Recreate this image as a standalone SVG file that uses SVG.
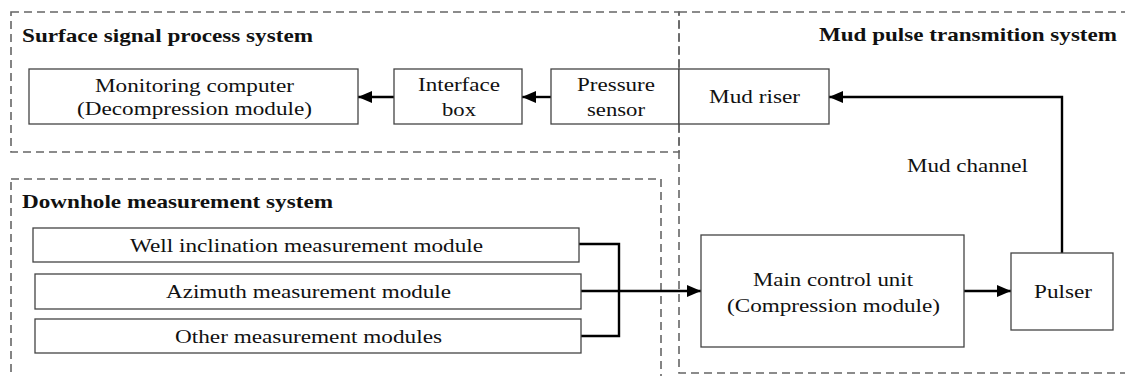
<svg xmlns="http://www.w3.org/2000/svg" width="1125" height="376" viewBox="0 0 1125 376" font-family="Liberation Serif, Times New Roman, serif">
<style>
.grp{fill:none;stroke:#666;stroke-width:1.6;stroke-dasharray:8 5}
.box{fill:#fff;stroke:#444;stroke-width:1.3}
text{font-size:19px;fill:#111}
.b{font-weight:bold}
.c{fill:none;stroke:#000;stroke-width:2.4}
</style>
<defs>
<marker id="ah" markerWidth="14" markerHeight="12" refX="14" refY="6" orient="auto" markerUnits="userSpaceOnUse">
<path d="M0,0 L14,6 L0,12 Z" fill="#000"/>
</marker>
</defs>
<g id="groups">
<rect class="grp" x="11" y="12" width="668" height="140"/>
<rect class="grp" x="11" y="179" width="650" height="220"/>
<rect class="grp" x="679" y="12" width="460" height="361"/>
<text class="b" x="22" y="42" textLength="291" lengthAdjust="spacingAndGlyphs">Surface signal process system</text>
<text class="b" x="819" y="41" textLength="298" lengthAdjust="spacingAndGlyphs">Mud pulse transmition system</text>
<text class="b" x="22" y="208" textLength="311" lengthAdjust="spacingAndGlyphs">Downhole measurement system</text>
</g>
<g id="connectors">
<line class="c" x1="394" y1="97" x2="358" y2="97" marker-end="url(#ah)"/>
<line class="c" x1="551" y1="97" x2="522" y2="97" marker-end="url(#ah)"/>
<polyline class="c" points="1062,253 1062,97 829,97" marker-end="url(#ah)"/>
<polyline class="c" points="579,244 619,244 619,336 581,336"/>
<line class="c" x1="581" y1="291" x2="701" y2="291" marker-end="url(#ah)"/>
<line class="c" x1="964" y1="291" x2="1011" y2="291" marker-end="url(#ah)"/>
<text x="907" y="172" textLength="121" lengthAdjust="spacingAndGlyphs">Mud channel</text>
</g>
<g id="monitoring">
<rect class="box" x="29" y="69" width="329" height="55"/>
<text x="95" y="92" textLength="199" lengthAdjust="spacingAndGlyphs">Monitoring computer</text>
<text x="77" y="115" textLength="235" lengthAdjust="spacingAndGlyphs">(Decompression module)</text>
</g>
<g id="interface">
<rect class="box" x="394" y="69" width="128" height="55"/>
<text x="418" y="91" textLength="82" lengthAdjust="spacingAndGlyphs">Interface</text>
<text x="442" y="116" textLength="34" lengthAdjust="spacingAndGlyphs">box</text>
</g>
<g id="pressure">
<rect class="box" x="551" y="69" width="128" height="55"/>
<text x="577" y="91" textLength="78" lengthAdjust="spacingAndGlyphs">Pressure</text>
<text x="587" y="116" textLength="58" lengthAdjust="spacingAndGlyphs">sensor</text>
</g>
<g id="riser">
<rect class="box" x="679" y="69" width="150" height="55"/>
<text x="709" y="103" textLength="91" lengthAdjust="spacingAndGlyphs">Mud riser</text>
</g>
<g id="main">
<rect class="box" x="701" y="235" width="263" height="112"/>
<text x="753" y="286" textLength="160" lengthAdjust="spacingAndGlyphs">Main control unit</text>
<text x="727" y="312" textLength="213" lengthAdjust="spacingAndGlyphs">(Compression module)</text>
</g>
<g id="pulser">
<rect class="box" x="1011" y="253" width="102" height="77"/>
<text x="1034" y="298" textLength="58" lengthAdjust="spacingAndGlyphs">Pulser</text>
</g>
<g id="inclination">
<rect class="box" x="33" y="228" width="546" height="34"/>
<text x="130" y="252" textLength="353" lengthAdjust="spacingAndGlyphs">Well inclination measurement module</text>
</g>
<g id="azimuth">
<rect class="box" x="35" y="274" width="546" height="35"/>
<text x="166" y="298" textLength="285" lengthAdjust="spacingAndGlyphs">Azimuth measurement module</text>
</g>
<g id="other">
<rect class="box" x="35" y="319" width="546" height="34"/>
<text x="175" y="343" textLength="267" lengthAdjust="spacingAndGlyphs">Other measurement modules</text>
</g>
</svg>
